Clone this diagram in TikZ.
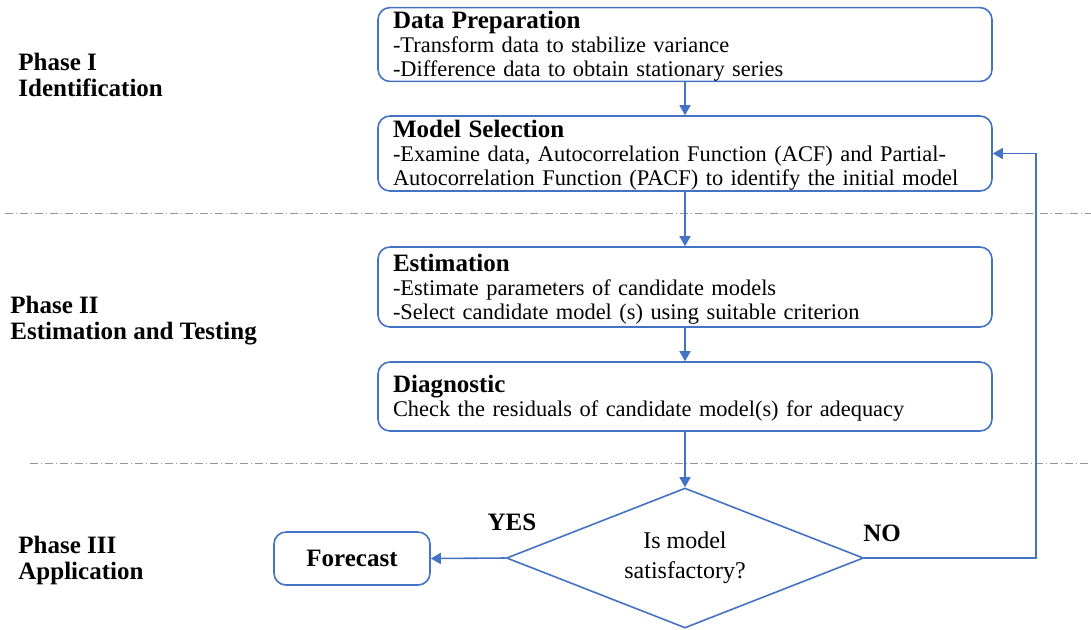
\documentclass[tikz,border=0pt]{standalone}
\usepackage{fontspec}
\setmainfont{Liberation Serif}
\usetikzlibrary{arrows.meta,shapes.geometric}
\definecolor{flowblue}{RGB}{68,114,196}
\definecolor{phasegray}{RGB}{150,150,150}
\newcommand{\steptitle}[1]{\rule{0pt}{10.5pt}{\fontsize{12.5}{12}\selectfont\bfseries #1}}

\begin{document}
\begin{tikzpicture}[x=0.5pt,y=-0.5pt,>={Triangle[length=5pt,width=5.5pt]},
  stepbox/.style={draw=flowblue,line width=0.8pt,rounded corners=6pt,text width=292pt,
    inner xsep=7.5pt,inner ysep=0pt,align=left,font=\fontsize{11.2}{12}\selectfont},
  decision/.style={draw=flowblue,line width=0.8pt,diamond,shape aspect=2.5,inner sep=0pt,
    minimum width=178.5pt,minimum height=70pt,align=center,font=\fontsize{12}{15}\selectfont},
  endbox/.style={draw=flowblue,line width=0.8pt,rounded corners=6pt,minimum width=78pt,
    minimum height=26.5pt,font=\fontsize{12.5}{13}\selectfont\bfseries},
  phase/.style={anchor=west,align=left,inner sep=0pt,font=\fontsize{12.5}{13}\selectfont\bfseries},
  answer/.style={inner sep=0pt,font=\fontsize{12.5}{13}\selectfont\bfseries},
  flow/.style={->,flowblue,line width=0.8pt},
  phaseline/.style={phasegray,line width=0.5pt,dash pattern=on 4pt off 1.5pt on 0.5pt off 1.5pt}]
  \useasboundingbox (0,0) rectangle (1091,629);
  \draw[phaseline] (5,213)--(1091,213);
  \draw[phaseline] (30,463)--(1091,463);
  \node[phase] (ph1) at (18,75) {Phase I\\Identification};
  \node[phase] (ph2) at (10,321) {Phase II\\Estimation and Testing};
  \node[phase] (ph3) at (18,560) {Phase III\\Application};
  \node[stepbox,minimum height=36.5pt] (prep) at (685,44.5) {\steptitle{Data Preparation}\\-Transform data to stabilize variance\\-Difference data to obtain stationary series};
  \node[stepbox,minimum height=37.5pt] (select) at (685,153.5) {\steptitle{Model Selection}\\-Examine data, Autocorrelation Function (ACF) and Partial-\\Autocorrelation Function (PACF) to identify the initial model};
  \node[stepbox,minimum height=40pt] (estim) at (685,287) {\steptitle{Estimation}\\-Estimate parameters of candidate models\\-Select candidate model (s) using suitable criterion};
  \node[stepbox,minimum height=34.5pt] (diag) at (685,396.5) {\steptitle{Diagnostic}\\Check the residuals of candidate model(s) for adequacy};
  \node[decision] (check) at (685,558) {Is model\\satisfactory?};
  \node[endbox] (fcast) at (352,558.5) {Forecast};
  \node[answer] (yes) at (512,522) {YES};
  \node[answer] (no) at (882,533) {NO};
  \coordinate (back) at (1036,558);
  \draw[flow] (prep.south)--(select.north);
  \draw[flow] (select.south)--(estim.north);
  \draw[flow] (estim.south)--(diag.north);
  \draw[flow] (diag.south)--(check.north);
  \draw[flow] (check.west)--(fcast.east);
  \draw[flow] (check.east)--(back) |- (select.east);
\end{tikzpicture}
\end{document}
